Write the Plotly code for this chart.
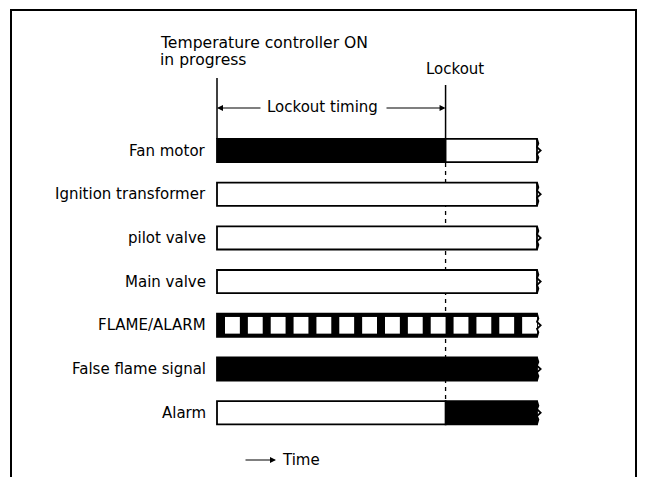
import plotly.graph_objects as go

# Timing diagram: burner sequence with a false flame signal -> lockout.

ROWS = ["Fan motor", "Ignition transformer", "pilot valve", "Main valve",
        "FLAME/ALARM", "False flame signal", "Alarm"]
TIME_END = 14      # end of drawn time axis (arbitrary units)
LOCKOUT = 10       # end of lockout timing

# energised (black) segments
on_rows = ["Fan motor", "FLAME/ALARM", "False flame signal", "Alarm"]
on_start = [0, 0, 0, 10]
on_end = [10, 14, 14, 14]

# de-energised (white) segments
off_rows = ["Fan motor", "Ignition transformer", "pilot valve", "Main valve", "Alarm"]
off_start = [10, 0, 0, 0, 0]
off_end = [14, 14, 14, 14, 10]

# FLAME/ALARM blinking: white gaps in the black bar
flame_gap_start = [0.35, 1.35, 2.35, 3.35, 4.35, 5.35, 6.35,
                   7.35, 8.35, 9.35, 10.35, 11.35, 12.35, 13.35]
flame_gap_end = [1.0, 2.0, 3.0, 4.0, 5.0, 6.0, 7.0,
                 8.0, 9.0, 10.0, 11.0, 12.0, 13.0, 14.0]

# page geometry (pixels) -> data units
W, H = 646, 477
X0PX, XU = 217, 22.857
Y0PX, YU = 150.5, 43.7
BAR_W = 0.53
FONT = dict(family="DejaVu Sans", size=15, color="black")
HEAD_FONT = dict(family="DejaVu Sans", size=15.6, color="black")


def dx(px):
    return (px - X0PX) / XU


def dy(py):
    return (py - Y0PX) / YU


row_idx = {r: i for i, r in enumerate(ROWS)}

fig = go.Figure()
fig.add_trace(go.Bar(
    y=[row_idx[r] for r in on_rows],
    x=[e - s for s, e in zip(on_start, on_end)], base=on_start,
    orientation="h", width=BAR_W,
    marker=dict(color="black", line=dict(color="black", width=1.8)),
    hoverinfo="skip",
))
fig.add_trace(go.Bar(
    y=[row_idx[r] for r in off_rows],
    x=[e - s for s, e in zip(off_start, off_end)], base=off_start,
    orientation="h", width=BAR_W,
    marker=dict(color="white", line=dict(color="black", width=1.8)),
    hoverinfo="skip",
))
fig.add_trace(go.Bar(
    y=[row_idx["FLAME/ALARM"]] * len(flame_gap_start),
    x=[e - s for s, e in zip(flame_gap_start, flame_gap_end)], base=flame_gap_start,
    orientation="h", width=BAR_W * 0.72,
    marker=dict(color="white", line=dict(width=0)),
    hoverinfo="skip",
))

# torn right ends of the bars
wave_dy = [-0.5, -0.3, -0.15, 0, 0.15, 0.3, 0.5]
wave_dx = [0, 0.06, 0.0, 0.16, 0.0, 0.06, 0]
wx, wy = [], []
for i in range(len(ROWS)):
    wx += [TIME_END + v for v in wave_dx] + [None]
    wy += [i + v * BAR_W for v in wave_dy] + [None]
fig.add_trace(go.Scatter(x=wx, y=wy, mode="lines",
                         line=dict(color="black", width=1.8), hoverinfo="skip"))

# row labels
for r in ROWS:
    fig.add_annotation(x=dx(208), y=row_idx[r], text=r, showarrow=False,
                       xanchor="right", yanchor="middle", font=FONT)

top = -BAR_W / 2
# start / lockout markers
fig.add_shape(type="line", x0=0, x1=0, y0=dy(78), y1=top,
              line=dict(color="black", width=1.5))
fig.add_shape(type="line", x0=LOCKOUT, x1=LOCKOUT, y0=dy(85), y1=top,
              line=dict(color="black", width=1.5))
fig.add_shape(type="line", x0=LOCKOUT, x1=LOCKOUT, y0=top, y1=len(ROWS) - 1,
              line=dict(color="black", width=1.3, dash="4px,4px"), layer="below")

# frame
fig.add_shape(type="rect", x0=dx(11), x1=dx(636), y0=dy(10), y1=dy(520),
              line=dict(color="black", width=2))

# texts
fig.add_annotation(x=dx(158), y=dy(43), text="Temperature controller ON",
                   showarrow=False, xanchor="left", yanchor="middle", font=HEAD_FONT)
fig.add_annotation(x=dx(158), y=dy(60), text="in progress",
                   showarrow=False, xanchor="left", yanchor="middle", font=HEAD_FONT)
fig.add_annotation(x=dx(455), y=dy(69), text="Lockout",
                   showarrow=False, xanchor="center", yanchor="middle", font=FONT)
fig.add_annotation(x=dx(322), y=dy(107), text="Lockout timing",
                   showarrow=False, xanchor="center", yanchor="middle", font=FONT)

arrow = dict(showarrow=True, arrowhead=2, arrowsize=1, arrowwidth=1.2,
             arrowcolor="black", axref="x", ayref="y", text="")
fig.add_annotation(x=0, y=dy(108), ax=dx(262), ay=dy(108), **arrow)
fig.add_annotation(x=LOCKOUT, y=dy(108), ax=dx(385), ay=dy(108), **arrow)
fig.add_annotation(x=dx(276), y=dy(460), ax=dx(244), ay=dy(460), **arrow)
fig.add_annotation(x=dx(280), y=dy(460), text="Time", showarrow=False,
                   xanchor="left", yanchor="middle", font=FONT)

fig.update_layout(
    width=W, height=H, margin=dict(l=0, r=0, t=0, b=0),
    barmode="overlay", showlegend=False,
    paper_bgcolor="white", plot_bgcolor="white",
    xaxis=dict(range=[dx(0), dx(W)], visible=False, fixedrange=True),
    yaxis=dict(range=[dy(H), dy(0)], visible=False, fixedrange=True),
)

fig.write_html("out.html", config={"displayModeBar": False},
               post_script="document.body.style.margin='0';"
                           "document.body.style.overflow='hidden';")
